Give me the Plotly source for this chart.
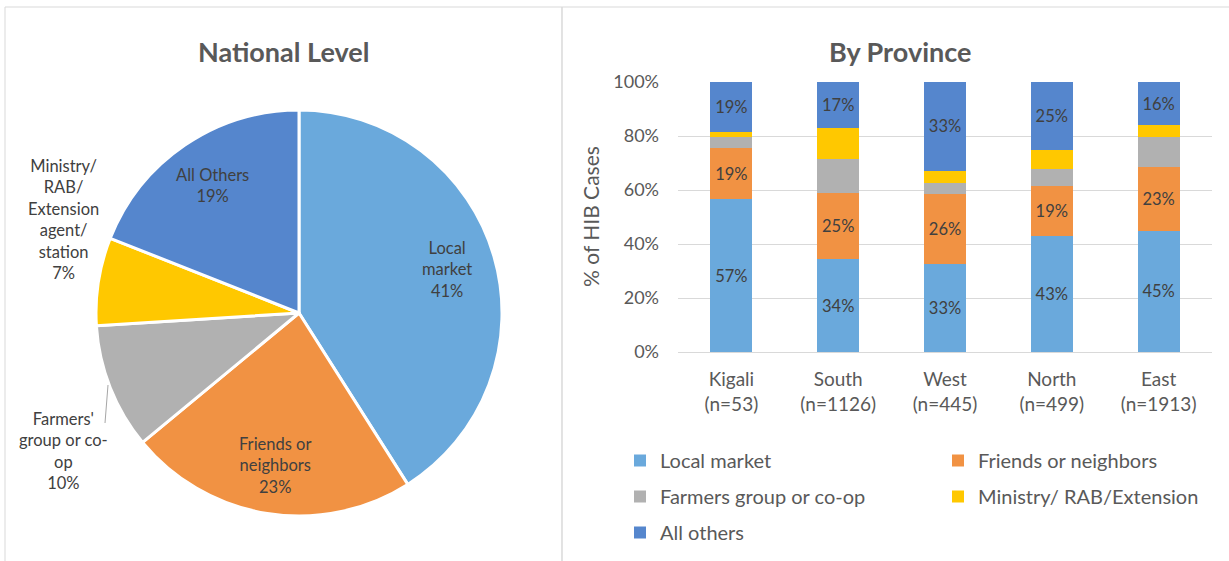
import math
import plotly.graph_objects as go

# ---- data -------------------------------------------------------------
sources = ["Local market", "Friends or neighbors", "Farmers group or co-op",
           "Ministry/ RAB/Extension", "All others"]
colors = ["#6AA9DC", "#F19243", "#B1B1B1", "#FFC800", "#5586CD"]

# national level shares (%)
national_labels = ["Local<br>market", "Friends or<br>neighbors",
                   "Farmers'<br>group or co-<br>op",
                   "Ministry/<br>RAB/<br>Extension<br>agent/<br>station",
                   "All Others"]
national_values = [41, 23, 10, 7, 19]

# by province shares (%)
provinces = ["Kigali", "South", "West", "North", "East"]
sample_sizes = [53, 1126, 445, 499, 1913]
local_market = [56.6, 34.3, 32.7, 42.8, 45.0]
friends_neighbors = [18.9, 24.7, 25.8, 18.6, 23.4]
farmers_group = [4.0, 12.6, 4.0, 6.2, 11.4]
ministry_rab = [1.8, 11.4, 4.7, 7.4, 4.1]
all_others = [18.7, 17.0, 32.8, 25.0, 16.1]
province_series = [local_market, friends_neighbors, farmers_group, ministry_rab, all_others]
labelled_series = [True, True, False, False, True]

y_ticks = [0, 20, 40, 60, 80, 100]
y_tick_text = [f"{v}%" for v in y_ticks]

# ---- geometry helpers -------------------------------------------------
W, H = 1229, 561
FONT = "Lato"
TXT = "#404040"
AX = "#595959"


def px(x):
    return x / W


def py(y):
    return 1 - y / H


fig = go.Figure()

# ---- pie --------------------------------------------------------------
pie_cx, pie_cy, pie_r = 299, 313, 203
fig.add_trace(go.Pie(
    values=national_values,
    labels=sources,
    marker=dict(colors=colors, line=dict(color="white", width=3)),
    sort=False,
    direction="clockwise",
    rotation=0,
    textinfo="none",
    hoverinfo="label+percent",
    showlegend=False,
    automargin=False,
    domain=dict(x=[px(pie_cx - pie_r), px(pie_cx + pie_r)],
                y=[py(pie_cy + pie_r), py(pie_cy - pie_r)]),
))

# slice labels: inside ones sit on the slice bisector, outside ones beside the pie
outside_pos = {2: (63, 451), 3: (63, 220)}
total = sum(national_values)
cum = 0
for i, v in enumerate(national_values):
    mid = (cum + v / 2) / total * 2 * math.pi
    cum += v
    if i in outside_pos:
        lx, ly = outside_pos[i]
    else:
        lx = pie_cx + 0.76 * pie_r * math.sin(mid)
        ly = pie_cy - 0.76 * pie_r * math.cos(mid)
    fig.add_annotation(x=px(lx), y=py(ly), xref="paper", yref="paper",
                       text=f"{national_labels[i]}<br>{v}%", showarrow=False,
                       font=dict(family=FONT, size=16.5, color=TXT),
                       xanchor="center", yanchor="middle")

# leader line for the farmers' group label
fig.add_shape(type="line", xref="paper", yref="paper",
              x0=px(108), y0=py(385), x1=px(105), y1=py(423),
              line=dict(color="#A6A6A6", width=1))

# ---- stacked bars -----------------------------------------------------
cat_text = [f"{p}<br>(n={n})" for p, n in zip(provinces, sample_sizes)]
for k, (name, vals, col, lab) in enumerate(zip(sources, province_series, colors, labelled_series)):
    fig.add_trace(go.Bar(
        x=provinces, y=vals, name=name,
        marker=dict(color=col, line=dict(width=0)),
        texttemplate="%{y:.0f}%" if lab else None,
        textposition="inside" if lab else "none",
        insidetextanchor="middle",
        textangle=0,
        textfont=dict(family=FONT, size=16.5, color=TXT),
        constraintext="none",
        legendgroup=name,
        legend="legend" if k % 2 == 0 else "legend2",
        xaxis="x", yaxis="y",
    ))

legend_style = dict(xanchor="left", yanchor="top", orientation="v",
                    traceorder="grouped", tracegroupgap=7,
                    font=dict(family=FONT, size=20, color=AX),
                    bgcolor="rgba(0,0,0,0)")

fig.update_layout(
    width=W, height=H,
    margin=dict(l=0, r=0, t=0, b=0, autoexpand=False),
    paper_bgcolor="white", plot_bgcolor="white",
    barmode="stack", bargap=0.605,
    font=dict(family=FONT, color=AX),
    xaxis=dict(domain=[px(678), px(1212)], tickmode="array",
               tickvals=provinces, ticktext=cat_text, showgrid=False,
               showline=False, zeroline=False, ticks="", automargin=False,
               tickfont=dict(family=FONT, size=19, color=AX),
               ticklabelstandoff=14, fixedrange=True),
    yaxis=dict(domain=[py(352), py(82)], range=[0, 100], tickmode="array",
               tickvals=y_ticks, ticktext=y_tick_text,
               showgrid=True, gridcolor="#D9D9D9", gridwidth=1,
               zeroline=True, zerolinecolor="#D9D9D9", zerolinewidth=1,
               showline=False, ticks="", automargin=False,
               tickfont=dict(family=FONT, size=18, color=AX),
               ticklabelstandoff=18, fixedrange=True),
    legend=dict(x=px(620), y=py(441), **legend_style),
    legend2=dict(x=px(938), y=py(441), **legend_style),
)

# titles and axis title
for tx, title in [(283, "National Level"), (900, "By Province")]:
    fig.add_annotation(x=px(tx), y=py(52), xref="paper", yref="paper",
                       text=f"<b>{title}</b>", showarrow=False,
                       xanchor="center", yanchor="middle",
                       font=dict(family=FONT, size=27, color=AX))
fig.add_annotation(x=px(591), y=py(217), xref="paper", yref="paper",
                   text="% of HIB Cases", showarrow=False, textangle=-90,
                   xanchor="center", yanchor="middle",
                   font=dict(family=FONT, size=21, color=AX))

# panel frames (open at the bottom edge)
for x0, x1 in [(5, 562), (562, 1240)]:
    fig.add_shape(type="rect", xref="paper", yref="paper",
                  x0=px(x0), x1=px(x1), y0=py(570), y1=py(7),
                  line=dict(color="#D9D9D9", width=1), layer="below")

fig.write_html("out.html")
